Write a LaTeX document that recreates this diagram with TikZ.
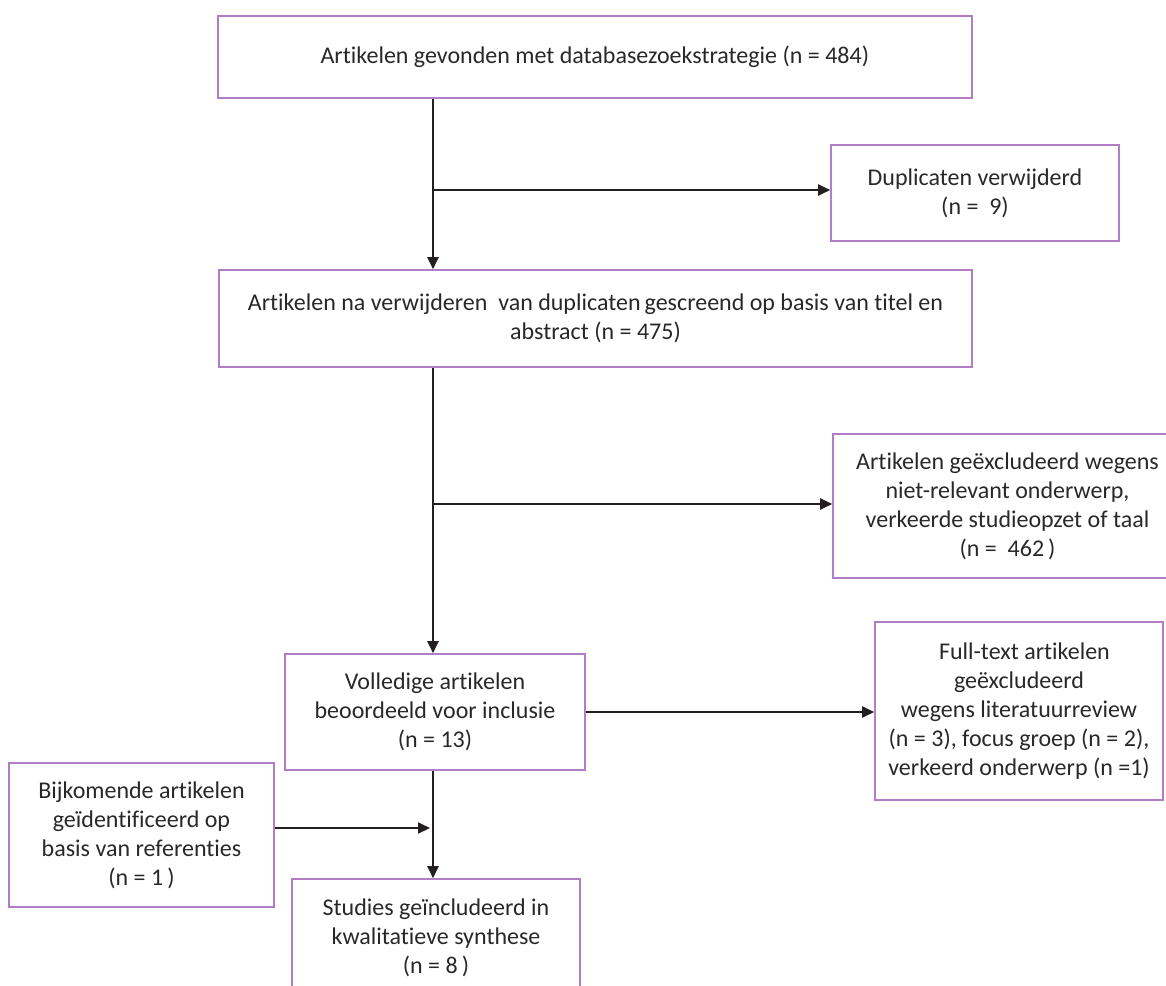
\documentclass[tikz,border=0pt]{standalone}
\usepackage{fontspec}
\setmainfont{Carlito}[Ligatures=NoCommon]
\usetikzlibrary{arrows.meta}
\definecolor{boxc}{RGB}{178,125,196}
\definecolor{txtc}{RGB}{40,40,42}
\definecolor{arrc}{RGB}{35,31,32}
\begin{document}
\begin{tikzpicture}[x=1pt,y=-1pt,
  box/.style={draw=boxc, line width=1.6pt, rectangle, inner sep=0pt, align=center,
    text=txtc, font=\fontsize{24}{29}\selectfont},
  arr/.style={draw=arrc, line width=2pt, -{Triangle[length=12pt,width=11pt]}}]
\useasboundingbox (0,0) rectangle (1166,985);
\clip (0,0) rectangle (1166,985);
\node[box, minimum width=754pt, minimum height=82pt] (top) at (594.8,57)
  {Artikelen gevonden met databasezoekstrategie (n = 484)};
\node[box, minimum width=288pt, minimum height=96pt] (dup) at (975,193)
  {Duplicaten verwijderd\\(n =\ \ 9)};
\node[box, minimum width=753pt, minimum height=97pt] (scr) at (595.5,318.5)
  {Artikelen na verwijderen\ \ van duplicaten\,gescreend op basis van titel en\\abstract (n = 475)};
\node[box, minimum width=349pt, minimum height=144pt] (exc) at (1007.5,506)
  {Artikelen geëxcludeerd wegens\\niet-relevant onderwerp,\\verkeerde studieopzet of taal\\(n =\ \ 462\,)};
\node[box, minimum width=300pt, minimum height=116pt] (vol) at (435,712)
  {Volledige artikelen\\beoordeeld voor inclusie\\(n = 13)};
\node[box, minimum width=288pt, minimum height=178pt] (ful) at (1019,711)
  {\ \ Full-text artikelen\\geëxcludeerd\\wegens literatuurreview\\(n = 3), focus groep (n = 2),\\verkeerd onderwerp (n =1)};
\node[box, minimum width=265pt, minimum height=144pt] (bij) at (141.5,835)
  {Bijkomende artikelen\\geïdentificeerd op\\basis van referenties\\(n = 1\,)};
\node[box, minimum width=288pt, minimum height=118pt] (stu) at (436,938)
  {Studies geïncludeerd in\\kwalitatieve synthese\\(n = 8\,)};
\coordinate (mx) at (433,0);
\coordinate (b1) at (433,190);
\coordinate (b2) at (433,504);
\coordinate (b3) at (430,828);
\draw[arr] (top.south -| mx) -- (scr.north -| mx);
\draw[arr] (b1) -- (b1 -| dup.west);
\draw[arr] (scr.south -| mx) -- (vol.north -| mx);
\draw[arr] (b2) -- (b2 -| exc.west);
\draw[arr] (vol.east) -- (vol.east -| ful.west);
\draw[arr] (vol.south -| mx) -- (stu.north -| mx);
\draw[arr] (b3 -| bij.east) -- (b3);
\end{tikzpicture}
\end{document}
